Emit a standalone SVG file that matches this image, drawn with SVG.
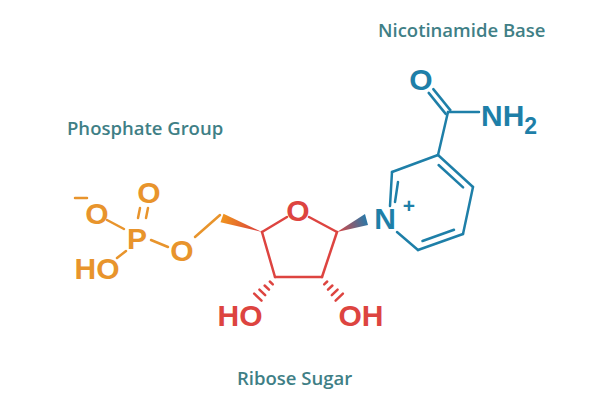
<svg xmlns="http://www.w3.org/2000/svg" width="600" height="400" viewBox="0 0 600 400">
<style>
.b{stroke-width:2.5;stroke-linecap:round;fill:none}
.or{stroke:#E8942C}.rd{stroke:#DD4440}.bl{stroke:#1E7FA8}
.at{font-family:"Liberation Sans",Arial,sans-serif;font-weight:bold;font-size:30px;text-anchor:middle}
.fo{fill:#E8942C}.fr{fill:#DD4440}.fb{fill:#1E7FA8}
.lb{font-family:"Open Sans","DejaVu Sans",sans-serif;font-weight:600;font-size:18.5px;fill:#3F7F86}
</style>
<defs>
<linearGradient id="g1" gradientUnits="userSpaceOnUse" x1="221" y1="218" x2="262" y2="232"><stop offset="0" stop-color="#F0961E"/><stop offset="1" stop-color="#D8383E"/></linearGradient>
<linearGradient id="g2" gradientUnits="userSpaceOnUse" x1="337" y1="232" x2="367" y2="220"><stop offset="0" stop-color="#DD4440"/><stop offset="1" stop-color="#2A78A8"/></linearGradient>
</defs>
<rect width="600" height="400" fill="#ffffff"/>
<g id="connectors">
<line class="b or" x1="107" y1="220" x2="124" y2="229"/>
<line class="b or" x1="138" y1="218" x2="140" y2="208"/>
<line class="b or" x1="146" y1="218" x2="148" y2="208"/>
<line class="b or" x1="151" y1="240" x2="168" y2="247"/>
<line class="b or" x1="126" y1="251" x2="117" y2="258"/>
<line class="b or" x1="195" y1="237" x2="220" y2="215"/>
<polygon points="262,232 223.5,213.8 220.5,222.2" fill="url(#g1)"/>
<line class="b rd" x1="287" y1="217" x2="262" y2="232"/>
<line class="b rd" x1="309" y1="217" x2="337" y2="232"/>
<line class="b rd" x1="262" y1="232" x2="275" y2="277"/>
<line class="b rd" x1="275" y1="277" x2="322" y2="277"/>
<line class="b rd" x1="322" y1="277" x2="337" y2="232"/>
<g class="b rd">
<line x1="269.8" y1="281.5" x2="272.8" y2="284.3"/>
<line x1="264.6" y1="285.5" x2="269.0" y2="289.7"/>
<line x1="259.4" y1="289.6" x2="265.2" y2="295.2"/>
<line x1="254.2" y1="293.7" x2="261.5" y2="300.6"/>
<line x1="324.2" y1="284.3" x2="327.2" y2="281.5"/>
<line x1="328.0" y1="289.7" x2="332.4" y2="285.5"/>
<line x1="331.8" y1="295.2" x2="337.6" y2="289.6"/>
<line x1="335.6" y1="300.6" x2="342.9" y2="293.7"/>
</g>
<polygon points="337,232 365,214 368,225" fill="url(#g2)"/>
<g class="b bl">
<line x1="390" y1="206" x2="392" y2="172"/>
<line x1="392" y1="172" x2="438" y2="155"/>
<line x1="438" y1="155" x2="473" y2="187"/>
<line x1="473" y1="187" x2="463" y2="234"/>
<line x1="463" y1="234" x2="418" y2="250"/>
<line x1="418" y1="250" x2="397" y2="232"/>
<line x1="398" y1="182" x2="395" y2="202"/>
<line x1="438.6" y1="165" x2="463.1" y2="187.4"/>
<line x1="454" y1="229.8" x2="422.5" y2="241"/>
<line x1="438" y1="155" x2="448" y2="112"/>
<line x1="450.3" y1="110.1" x2="433.3" y2="89.1"/>
<line x1="445.7" y1="113.9" x2="428.7" y2="92.9"/>
<line x1="448" y1="112" x2="479" y2="112"/>
</g>
</g>
<g id="phosphate">
<line class="b or" x1="75" y1="198" x2="87" y2="198"/>
<text class="at fo" x="97" y="224">O</text>
<text class="at fo" x="137" y="249">P</text>
<text class="at fo" x="149" y="203">O</text>
<text class="at fo" x="182" y="261">O</text>
<text class="at fo" x="97" y="279">HO</text>
</g>
<g id="ribose">
<text class="at fr" x="298" y="221">O</text>
<text class="at fr" x="240" y="326">HO</text>
<text class="at fr" x="361" y="326">OH</text>
</g>
<g id="nicotinamide">
<text class="at fb" x="385" y="229">N</text>
<text class="fb" x="409" y="213" font-family="Liberation Sans,Arial,sans-serif" font-weight="bold" font-size="21" text-anchor="middle">+</text>
<text class="at fb" x="421" y="90">O</text>
<text class="at fb" x="481" y="126" style="text-anchor:start">NH<tspan font-size="23" dy="8">2</tspan></text>
</g>
<g id="labels">
<text class="lb" x="67" y="135">Phosphate Group</text>
<text class="lb" x="378" y="37">Nicotinamide Base</text>
<text class="lb" x="237" y="385">Ribose Sugar</text>
</g>
</svg>
